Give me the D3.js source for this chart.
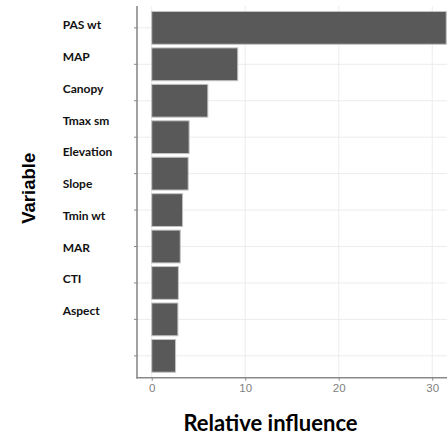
<!DOCTYPE html>
<html>
<head>
<meta charset="utf-8">
<script src="https://cdn.jsdelivr.net/npm/d3@7"></script>
<style>
  html, body { margin: 0; padding: 0; background: #fff; }
  svg { display: block; }
</style>
</head>
<body>
<script>
// Variable names, ordered from most to least influential
const variables = ["PAS wt", "MAP", "Canopy", "Tmax sm", "Elevation", "Slope", "Tmin wt", "MAR", "CTI", "Aspect"];
// Relative influence (%) of each variable
const influence = [31.5, 9.2, 6.0, 4.0, 3.9, 3.3, 3.05, 2.85, 2.8, 2.55];
// Tick values on the influence axis
const xTicks = [0, 10, 20, 30];

const W = 447, H = 437;
const panel = { left: 137, top: 6, right: 461, bottom: 377.7 };

const svg = d3.select("body").append("svg")
  .attr("width", W).attr("height", H);

const xMax = d3.max(influence);
const x = d3.scaleLinear()
  .domain([-0.05 * xMax, xMax * 1.05])
  .range([panel.left, panel.right]);

const y = d3.scaleBand()
  .domain(variables)
  .range([panel.top, panel.bottom])
  .paddingInner(0.1)
  .paddingOuter(0.15);

// Variable names sit in their own column with a slightly tighter spacing
const labelY = d3.scalePoint()
  .domain(variables)
  .range([29.3, 315]);

const grid = svg.append("g").attr("class", "grid");
grid.selectAll("line.v").data(xTicks).join("line")
  .attr("class", "v")
  .attr("x1", d => x(d)).attr("x2", d => x(d))
  .attr("y1", panel.top).attr("y2", panel.bottom)
  .attr("stroke", "#ececec").attr("stroke-width", 1);
grid.selectAll("line.h").data(variables).join("line")
  .attr("class", "h")
  .attr("x1", panel.left).attr("x2", W)
  .attr("y1", d => y(d) + y.bandwidth() / 2).attr("y2", d => y(d) + y.bandwidth() / 2)
  .attr("stroke", "#ececec").attr("stroke-width", 1);

// Bars
svg.append("g").selectAll("rect").data(variables).join("rect")
  .attr("x", x(0))
  .attr("y", d => y(d))
  .attr("width", (d, i) => x(influence[i]) - x(0))
  .attr("height", y.bandwidth())
  .attr("fill", "#595959")
  .attr("stroke", "#c4c4c4")
  .attr("stroke-width", 1);

// Bottom axis
const xAxis = d3.axisBottom(x).tickValues(xTicks).tickSize(3).tickPadding(3);
const gx = svg.append("g")
  .attr("transform", `translate(0,${panel.bottom})`)
  .call(xAxis);
gx.select(".domain").remove();
gx.selectAll(".tick line").attr("stroke", "#8a8a8a").attr("stroke-width", 1);
gx.selectAll(".tick text")
  .attr("fill", "#7f7f7f")
  .style("font-family", "'Liberation Sans', Arial, sans-serif")
  .style("font-size", "11.5px");

// Left axis ticks
const yAxis = d3.axisLeft(y).tickSize(3).tickFormat("");
const gy = svg.append("g")
  .attr("transform", `translate(${panel.left},0)`)
  .call(yAxis);
gy.select(".domain").remove();
gy.selectAll(".tick line").attr("stroke", "#8a8a8a").attr("stroke-width", 1);

// Axis lines
svg.append("line")
  .attr("x1", panel.left).attr("x2", panel.left)
  .attr("y1", panel.top).attr("y2", panel.bottom + 0.8)
  .attr("stroke", "#8a8a8a").attr("stroke-width", 1.6);
svg.append("line")
  .attr("x1", panel.left - 0.8).attr("x2", W)
  .attr("y1", panel.bottom).attr("y2", panel.bottom)
  .attr("stroke", "#8a8a8a").attr("stroke-width", 1.6);

// Variable names
svg.append("g").selectAll("text").data(variables).join("text")
  .attr("x", 62.7)
  .attr("y", d => labelY(d))
  .attr("fill", "#111")
  .style("font-family", "Lato, 'Open Sans', sans-serif")
  .style("font-weight", "bold")
  .style("font-size", "12px")
  .text(d => d);

// Axis titles
svg.append("text")
  .attr("x", 270.5).attr("y", 430.5)
  .attr("text-anchor", "middle")
  .attr("fill", "#000")
  .style("font-family", "Lato, 'Open Sans', sans-serif")
  .style("font-weight", "bold")
  .style("font-size", "22px")
  .text("Relative influence");

svg.append("text")
  .attr("transform", "translate(35,188.3) rotate(-90)")
  .attr("text-anchor", "middle")
  .attr("fill", "#000")
  .style("font-family", "'Liberation Sans', Arial, sans-serif")
  .style("font-weight", "bold")
  .style("font-size", "18.5px")
  .text("Variable");
</script>
</body>
</html>
